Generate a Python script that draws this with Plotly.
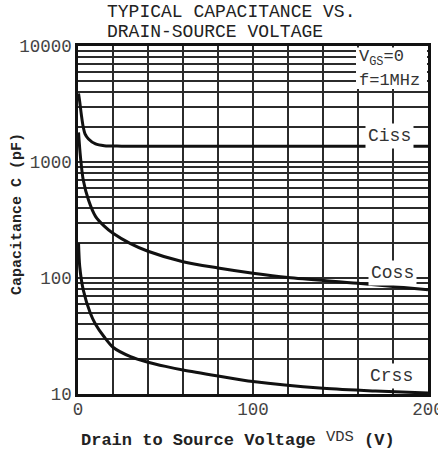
import plotly.graph_objects as go

# ---- data ----
v_ciss = [0.3, 1, 2, 3, 4, 6, 10, 15, 25, 50, 100, 150, 200]
c_ciss = [3900, 3300, 2500, 2000, 1750, 1580, 1430, 1380, 1370, 1365, 1365, 1365, 1365]

v_coss = [0.3, 1, 1.7, 3, 6, 10, 15, 20, 30, 40, 60, 80, 100, 120, 160, 200]
c_coss = [1800, 1300, 1000, 700, 470, 340, 280, 243, 198, 170, 138, 122, 110, 101, 90, 79]

v_crss = [0.3, 1, 3, 7, 10, 15, 20, 30, 40, 50, 60, 80, 100, 140, 170, 200]
c_crss = [200, 125, 79, 50, 40, 31, 25.3, 21, 18.8, 17.3, 16.1, 14.3, 12.8, 11.2, 10.6, 10.2]

x_tickvals = [0, 20, 40, 60, 80, 100, 120, 140, 160, 180, 200]
x_ticktext = ["0", "", "", "", "", "100", "", "", "", "", "200"]

y_tickvals = [m * d for d in (10, 100, 1000) for m in range(1, 10)] + [10000]
y_ticktext = [str(m * d) if m == 1 else "" for d in (10, 100, 1000) for m in range(1, 10)] + ["10000"]

# ---- layout geometry (pixels) ----
W, H = 438, 453
L, R, T, B = 78, 10, 46, 59
PW, PH = W - L - R, H - T - B

def px(x):
    return (x - L) / PW

def py(y):
    return (H - B - y) / PH

MONO = "Liberation Mono, Courier New, monospace"
INK = "#111111"

fig = go.Figure()
for vx, cy in [(v_ciss, c_ciss), (v_coss, c_coss), (v_crss, c_crss)]:
    fig.add_trace(go.Scatter(x=vx, y=cy, mode="lines",
                             line=dict(color=INK, width=3, shape="spline", smoothing=0.8),
                             hoverinfo="skip", showlegend=False))

grid_col = "#2b2b2b"
fig.update_xaxes(range=[0, 200], tickmode="array", tickvals=x_tickvals, ticktext=x_ticktext,
                 showgrid=True, gridcolor=grid_col, gridwidth=1.7, zeroline=False,
                 showline=True, linecolor=INK, linewidth=2.5, mirror=True, ticks="",
                 ticklabeloverflow="allow", automargin=False, ticklabelstandoff=-3,
                 tickfont=dict(family=MONO, size=17.5, color="#444"))
fig.update_yaxes(type="log", range=[1, 4], tickmode="array", tickvals=y_tickvals, ticktext=y_ticktext,
                 showgrid=True, gridcolor=grid_col, gridwidth=1.7, zeroline=False,
                 showline=True, linecolor=INK, linewidth=2.5, mirror=True, ticks="",
                 automargin=False,
                 tickfont=dict(family=MONO, size=17.5, color="#444"))

ann = []
# title (two lines)
ann.append(dict(text="TYPICAL CAPACITANCE VS.", x=px(105), y=py(12), xanchor="left", yanchor="middle",
                font=dict(family=MONO, size=18, color="#222")))
ann.append(dict(text="DRAIN-SOURCE VOLTAGE", x=px(105), y=py(32), xanchor="left", yanchor="middle",
                font=dict(family=MONO, size=18, color="#222")))
# axis titles
ann.append(dict(text="<b>Drain to Source Voltage</b>", x=px(79), y=py(440), xanchor="left", yanchor="middle",
                font=dict(family=MONO, size=17, color="#222")))
ann.append(dict(text="VDS", x=px(324), y=py(437), xanchor="left", yanchor="middle",
                font=dict(family=MONO, size=15.5, color="#333")))
ann.append(dict(text="<b>(V)</b>", x=px(362), y=py(440), xanchor="left", yanchor="middle",
                font=dict(family=MONO, size=17, color="#222")))
ann.append(dict(text="<b>Capacitance C (pF)</b>", x=px(17), y=py(214), textangle=-90,
                xanchor="center", yanchor="middle", font=dict(family=MONO, size=15, color="#222")))
# condition labels
ann.append(dict(text="V<sub>GS</sub>=0", x=px(357), y=py(58), xanchor="left", yanchor="middle",
                font=dict(family=MONO, size=17, color="#333")))
ann.append(dict(text="f=1MHz", x=px(357), y=py(80), xanchor="left", yanchor="middle",
                font=dict(family=MONO, size=17, color="#333")))
# curve labels
for txt, xc, yc in [("Ciss", 389, 136), ("Coss", 392, 273), ("Crss", 391, 376)]:
    ann.append(dict(text=txt, x=px(xc), y=py(yc), xanchor="center", yanchor="middle",
                    bgcolor="white", borderpad=2,
                    font=dict(family=MONO, size=18, color="#333")))
for a in ann:
    a.update(xref="paper", yref="paper", showarrow=False)

fig.update_layout(
    width=W, height=H, margin=dict(l=L, r=R, t=T, b=B),
    paper_bgcolor="white", plot_bgcolor="white",
    annotations=ann,
    shapes=[dict(type="rect", xref="paper", yref="paper", x0=px(356), x1=px(427), y0=py(89), y1=py(47.5),
                 fillcolor="white", line=dict(width=0), layer="above")],
)

fig.write_html("out.html")
